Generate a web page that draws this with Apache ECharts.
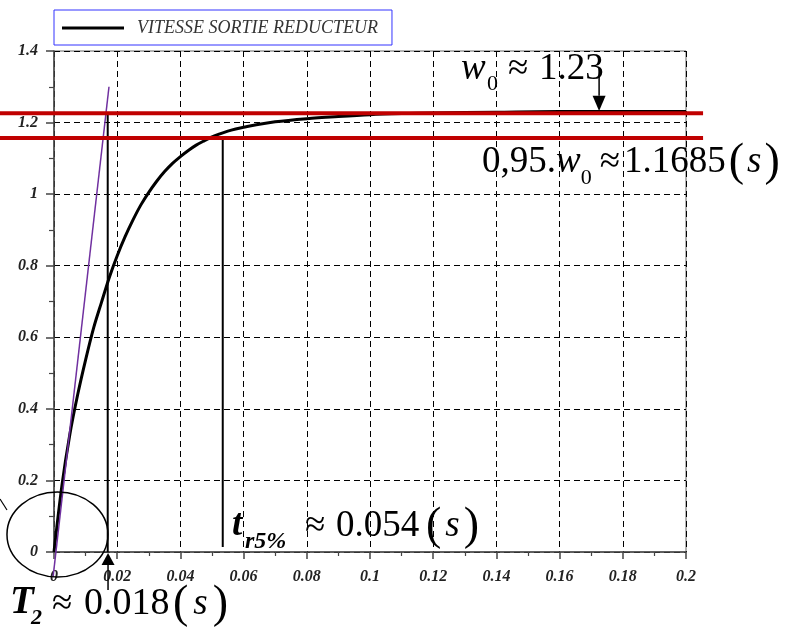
<!DOCTYPE html>
<html><head><meta charset="utf-8">
<script src="https://cdn.jsdelivr.net/npm/echarts@6/dist/echarts.min.js"></script>
<style>html,body{margin:0;padding:0;background:#fff}#c{width:792px;height:628px}</style>
</head><body><div id="c"></div>
<script>
// ---- data ----
const seriesName = 'VITESSE SORTIE REDUCTEUR';
const timeValues  = [0, 0.0025, 0.005, 0.0075, 0.010, 0.0125, 0.015, 0.0175, 0.020, 0.0225, 0.025, 0.0275, 0.030, 0.0325, 0.035, 0.0375, 0.040, 0.0425, 0.045, 0.0475, 0.050, 0.0525, 0.055, 0.0575, 0.060, 0.070, 0.080, 0.090, 0.100, 0.110, 0.120, 0.140, 0.160, 0.180, 0.200];
const speedValues = [0, 0.185, 0.328, 0.440, 0.537, 0.625, 0.697, 0.767, 0.828, 0.881, 0.928, 0.970, 1.005, 1.036, 1.063, 1.086, 1.105, 1.122, 1.137, 1.149, 1.160, 1.1685, 1.176, 1.182, 1.187, 1.202, 1.211, 1.217, 1.222, 1.225, 1.227, 1.229, 1.231, 1.231, 1.231];
const xTicks = {min: 0, max: 0.2, interval: 0.02};
const yTicks = {min: 0, max: 1.4, interval: 0.2};
// annotation lines (data coordinates)
const redLevels = [1.226, 1.157];
const redSpan = [-0.0171, 0.2054];
const tangentLine = [[-0.0003, -0.07], [0.0174, 1.30]];
const verticalT2 = [[0.0170, 1.226], [0.0170, 0]];
const verticalTr = [[0.0534, 1.157], [0.0534, 0.014]];
const arrowUp = {x: 0.0171, from: -0.106, base: -0.036, tip: -0.003};
const arrowDown = {x: 0.1725, from: 1.351, base: 1.275, tip: 1.232};
const circleCenter = [0.0011, 0.049];

const curve = timeValues.map((t, i) => [t, speedValues[i]]);
const SERIF = '"Liberation Serif", "Times New Roman", serif';

const chart = echarts.init(document.getElementById('c'), null, {renderer: 'canvas'});

const axisLabel = {fontFamily: SERIF, fontStyle: 'italic', fontWeight: 'bold', fontSize: 16, color: '#222'};
const splitLine = {show: true, lineStyle: {color: '#000', width: 1, type: [6, 4]}};

const option = {
  animation: false,
  backgroundColor: '#fff',
  grid: {left: 54, right: 106, top: 51, bottom: 76, show: true, borderColor: '#666', borderWidth: 1},
  legend: {
    data: [{name: seriesName, icon: 'rect'}], left: 54, top: 10, orient: 'horizontal',
    itemWidth: 62, itemHeight: 3, padding: [9, 14, 8, 8],
    borderColor: '#3333ff', borderWidth: 1, backgroundColor: '#fff', borderRadius: 0,
    textStyle: {fontFamily: SERIF, fontStyle: 'italic', fontSize: 18, color: '#333', padding: [0, 0, 0, 8]}
  },
  xAxis: {
    type: 'value', min: xTicks.min, max: xTicks.max, interval: xTicks.interval,
    axisLine: {show: true, onZero: false, lineStyle: {color: '#444', width: 1.5}},
    axisTick: {show: true, length: 7, lineStyle: {color: '#444', width: 1.5}},
    minorTick: {show: true, splitNumber: 2, length: 4, lineStyle: {color: '#444', width: 1.2}},
    axisLabel: Object.assign({margin: 17}, axisLabel),
    splitLine: splitLine
  },
  yAxis: {
    type: 'value', min: yTicks.min, max: yTicks.max, interval: yTicks.interval,
    axisLine: {show: true, onZero: false, lineStyle: {color: '#444', width: 1.5}},
    axisTick: {show: true, length: 8, lineStyle: {color: '#444', width: 1.5}},
    minorTick: {show: true, splitNumber: 2, length: 5, lineStyle: {color: '#444', width: 1.2}},
    axisLabel: Object.assign({margin: 16}, axisLabel),
    splitLine: splitLine
  },
  series: [
    {name: seriesName, type: 'line', data: curve, symbol: 'none', showSymbol: false,
     smooth: 0.3,
     lineStyle: {color: '#000', width: 3}, itemStyle: {color: '#000'}, z: 3}
  ]
};
chart.setOption(option);

// linear data -> pixel mapping from the library's own axis conversion (extrapolates past the grid)
const pMin = chart.convertToPixel({gridIndex: 0}, [xTicks.min, yTicks.min]);
const pMax = chart.convertToPixel({gridIndex: 0}, [xTicks.max, yTicks.max]);
function toPx(d) {
  return [pMin[0] + (d[0] - xTicks.min) / (xTicks.max - xTicks.min) * (pMax[0] - pMin[0]),
          pMin[1] + (d[1] - yTicks.min) / (yTicks.max - yTicks.min) * (pMax[1] - pMin[1])];
}
function segEl(a, b, color, width, z) {
  const p = toPx(a), q = toPx(b);
  return {type: 'line', silent: true, z: z, shape: {x1: p[0], y1: p[1], x2: q[0], y2: q[1]},
    style: {stroke: color, lineWidth: width}};
}
function arrowEls(ar, headW) {
  const tip = toPx([ar.x, ar.tip]), base = toPx([ar.x, ar.base]);
  return [segEl([ar.x, ar.from], [ar.x, ar.base], '#000', 1.5, 60),
    {type: 'polygon', silent: true, z: 61,
     shape: {points: [[tip[0], tip[1]], [base[0] - headW / 2, base[1]], [base[0] + headW / 2, base[1]]]},
     style: {fill: '#000'}}];
}

const lines = [
  segEl(tangentLine[0], tangentLine[1], '#7030A0', 1.5, 55),
  segEl(verticalT2[0], verticalT2[1], '#000', 2, 56),
  segEl(verticalTr[0], verticalTr[1], '#000', 2, 56),
  segEl([redSpan[0], redLevels[0]], [redSpan[1], redLevels[0]], '#C00000', 4, 58),
  segEl([redSpan[0], redLevels[1]], [redSpan[1], redLevels[1]], '#C00000', 4, 58)
].concat(arrowEls(arrowUp, 13), arrowEls(arrowDown, 13));

// ---- text annotations laid out piece by piece ----
const mctx = document.createElement('canvas').getContext('2d');
function fontStr(p) { return (p.italic ? 'italic ' : '') + (p.bold ? 'bold ' : '') + p.size + 'px ' + SERIF; }
function layout(pieces, x0, base) {
  const out = [];
  let x = x0;
  pieces.forEach(p => {
    if (p.x !== undefined) x = p.x;
    x += (p.gap || 0);
    mctx.font = fontStr(p);
    const w = mctx.measureText(p.t).width;
    const b = base + (p.dy || 0);
    out.push({type: 'text', x: x, y: b - p.size * 0.30, z: 100, silent: true,
      style: {text: p.t, fontFamily: SERIF, fontSize: p.size, fontStyle: p.italic ? 'italic' : 'normal',
        fontWeight: p.bold ? 'bold' : 'normal', fill: '#000', align: 'left', verticalAlign: 'middle'}});
    x += w;
  });
  return out;
}
const M = 37, S = 22, P = 46;
const annA = layout([
  {t: 'w', size: M, italic: true, x: 461}, {t: '0', size: S, dy: 11, x: 487},
  {t: '≈', size: M, x: 508}, {t: '1.23', size: M, x: 539}
], 461, 80);
const annB = layout([
  {t: '0,95.', size: M}, {t: 'w', size: M, italic: true}, {t: '0', size: S, dy: 12},
  {t: '≈', size: M, gap: 8}, {t: '1.1685', size: M, gap: 4},
  {t: '(', size: P, dy: 4, gap: 3}, {t: 's', size: M, italic: true, gap: 3}, {t: ')', size: P, dy: 4, gap: 3}
], 482, 173);
const annC = layout([
  {t: 't', size: M, italic: true, bold: true, x: 232}, {t: 'r5%', size: 24, italic: true, bold: true, dy: 12, x: 245},
  {t: '≈', size: M, x: 305}, {t: '0.054', size: M, x: 336},
  {t: '(', size: P, dy: 4, x: 426}, {t: 's', size: M, italic: true, gap: 4}, {t: ')', size: P, dy: 4, gap: 4}
], 232, 537);
const annD = layout([
  {t: 'T', size: 39, italic: true, bold: true, x: 10}, {t: '2', size: 22, italic: true, bold: true, dy: 10, x: 31},
  {t: '≈', size: M, x: 52}, {t: '0.018', size: 38, x: 84},
  {t: '(', size: P, dy: 4, x: 173}, {t: 's', size: M, italic: true, gap: 5}, {t: ')', size: P, dy: 4, gap: 5}
], 10, 615);

const cc = toPx(circleCenter);
const shapes = [
  {type: 'ellipse', shape: {cx: cc[0], cy: cc[1], rx: 50.5, ry: 42.5}, z: 90, silent: true,
   style: {fill: 'none', stroke: '#000', lineWidth: 1.5}},
  {type: 'line', shape: {x1: 0, y1: 499, x2: 7, y2: 510}, z: 90, silent: true,
   style: {stroke: '#000', lineWidth: 1.2}}
];
chart.setOption({graphic: {elements: lines.concat(shapes, annA, annB, annC, annD)}});
</script>
</body></html>
